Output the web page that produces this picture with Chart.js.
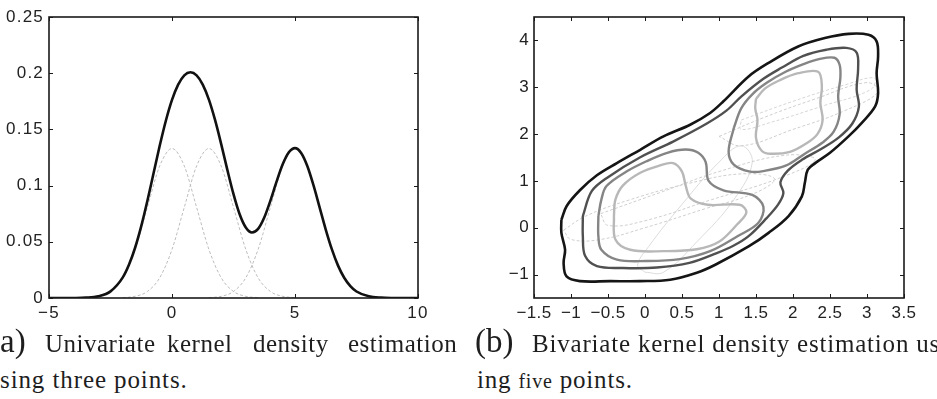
<!DOCTYPE html>
<html lang="en">
<head>
<meta charset="UTF-8">
<title>Kernel density estimation</title>
<script src="https://cdn.jsdelivr.net/npm/chart.js@4.4.1/dist/chart.umd.min.js"></script>
<style>
  body { margin: 0; background: #fff; width: 937px; height: 399px; overflow: hidden; position: relative; }
  .panel { position: absolute; top: 0; }
  .cap { position: absolute; font-family: "Liberation Serif", "Times New Roman", serif; color: #1e1e1e;
         white-space: nowrap; line-height: 1; font-size: 25px; letter-spacing: 0.5px; }
  .big { font-size: 33px; letter-spacing: 0; }
  .small { font-size: 20px; }
</style>
</head>
<body>
<div class="panel" style="left:0"><canvas id="uni" width="468" height="330"></canvas></div>
<div class="panel" style="left:468px"><canvas id="bi" width="469" height="330"></canvas></div>

<div class="cap big" style="left:0; top:325px">a)</div>
<div class="cap" style="left:45px; top:331px">Univariate</div>
<div class="cap" style="left:167px; top:331px">kernel</div>
<div class="cap" style="left:253px; top:331px">density</div>
<div class="cap" style="left:348px; top:331px">estimation</div>
<div class="cap" style="left:0; top:367px; letter-spacing:0.9px">sing three points.</div>

<div class="cap big" style="left:475px; top:325px">(b)</div>
<div class="cap" style="left:532px; top:331px; letter-spacing:0.8px">Bivariate kernel density estimation us</div>
<div class="cap" style="left:477px; top:367px; letter-spacing:0.8px">ing <span class="small">five</span> points.</div>

<script>
// ---- panel (a): univariate KDE, three points ----
const densityX = [-5, -4.5, -4, -3.5, -3, -2.5, -2, -1.75, -1.5, -1.25, -1, -0.75, -0.5, -0.25, 0,
  0.25, 0.5, 0.75, 1, 1.25, 1.5, 1.75, 2, 2.25, 2.5, 2.75, 3, 3.25, 3.5, 3.75, 4,
  4.25, 4.5, 4.75, 5, 5.25, 5.5, 5.75, 6, 6.25, 6.5, 6.75, 7, 7.25, 7.5, 8, 8.5, 9, 9.5, 10];
const densityY = [0, 0, 0.00004, 0.0003, 0.0015, 0.0059, 0.0183, 0.0295, 0.0447, 0.0639, 0.0865, 0.1110, 0.1354, 0.1577, 0.1762,
  0.1898, 0.1981, 0.2008, 0.1981, 0.1899, 0.1765, 0.1584, 0.1369, 0.1140, 0.0924, 0.0745, 0.0627, 0.0583, 0.0615, 0.0716, 0.0866,
  0.1035, 0.1189, 0.1296, 0.1333, 0.1290, 0.1174, 0.1004, 0.0807, 0.0609, 0.0432, 0.0288, 0.0180, 0.0106, 0.0058, 0.0015, 0.0003, 0.00004, 0, 0];

// the three dashed kernels
const kernelY = [0.0003, 0.0015, 0.0058, 0.0180, 0.0432, 0.0807, 0.1174, 0.1330, 0.1174, 0.0807, 0.0432, 0.0180, 0.0058, 0.0015, 0.0003];
const kernelAX = [-3.5, -3, -2.5, -2, -1.5, -1, -0.5, 0, 0.5, 1, 1.5, 2, 2.5, 3, 3.5];
const kernelBX = [-2, -1.5, -1, -0.5, 0, 0.5, 1, 1.5, 2, 2.5, 3, 3.5, 4, 4.5, 5];
const kernelCX = [1.5, 2, 2.5, 3, 3.5, 4, 4.5, 5, 5.5, 6, 6.5, 7, 7.5, 8, 8.5];

const uniXTicks = [-5, 0, 5, 10];
const uniYTicks = [0, 0.05, 0.1, 0.15, 0.2, 0.25];
const uniYLabels = ['0', '0.05', '0.1', '0.15', '0.2', '0.25'];

// ---- panel (b): bivariate KDE, contour lines ----
const contourOuter = [[-1.13, 0.17], [-1.06, 0.46], [-0.88, 0.8], [-0.65, 1.12], [-0.38, 1.38], [-0.07, 1.66],
  [0.25, 1.95], [0.61, 2.2], [0.88, 2.45], [1.06, 2.7], [1.4, 3.23], [1.67, 3.52], [2.07, 3.87], [2.43, 4.05],
  [2.75, 4.14], [3.02, 4.12], [3.13, 3.98], [3.15, 3.66], [3.13, 3.3], [3.15, 2.88], [3.11, 2.59], [2.93, 2.24],
  [2.75, 1.95], [2.5, 1.6], [2.3, 1.38], [2.2, 1.24], [2.16, 0.96], [2.12, 0.67], [1.94, 0.25], [1.67, -0.11],
  [1.4, -0.4], [0.95, -0.79], [0.7, -0.96], [0.34, -1.11], [-0.07, -1.14], [-0.47, -1.14], [-0.88, -1.14],
  [-1.06, -1.04], [-1.1, -0.75], [-1.08, -0.47], [-1.13, -0.11], [-1.13, 0.17]];
const contourSecond = [[-0.84, 0.25], [-0.72, 0.78], [-0.5, 1.08], [-0.07, 1.5], [0.38, 1.84], [0.83, 2.22],
  [1.1, 2.5], [1.3, 2.8], [1.6, 3.18], [1.85, 3.42], [2.14, 3.67], [2.45, 3.8], [2.72, 3.84], [2.86, 3.74],
  [2.88, 3.4], [2.86, 2.95], [2.89, 2.58], [2.8, 2.22], [2.62, 1.93], [2.38, 1.68], [2.12, 1.45], [1.93, 1.22],
  [1.83, 0.97], [1.87, 0.74], [1.8, 0.5], [1.64, 0.2], [1.4, -0.18], [1.2, -0.38], [0.97, -0.54], [0.6, -0.75],
  [0.16, -0.85], [-0.3, -0.86], [-0.65, -0.82], [-0.81, -0.6], [-0.84, -0.18], [-0.84, 0.25]];
const contourThirdLow = [[-0.63, 0.25], [-0.59, 0.6], [-0.52, 0.89], [-0.25, 1.2], [0.02, 1.42], [0.3, 1.6],
  [0.55, 1.67], [0.72, 1.6], [0.82, 1.4], [0.86, 1.0], [1.06, 0.8], [1.45, 0.7], [1.6, 0.45], [1.53, 0.1],
  [1.25, -0.18], [0.88, -0.5], [0.47, -0.67], [0.02, -0.71], [-0.38, -0.68], [-0.59, -0.47], [-0.63, -0.18],
  [-0.63, 0.25]];
const contourThirdHigh = [[1.2, 2.13], [1.3, 2.55], [1.45, 2.85], [1.65, 3.1], [1.9, 3.33], [2.15, 3.5],
  [2.35, 3.6], [2.56, 3.63], [2.63, 3.48], [2.64, 3.2], [2.61, 2.81], [2.63, 2.42], [2.55, 2.05], [2.4, 1.82],
  [2.15, 1.57], [1.91, 1.33], [1.6, 1.21], [1.42, 1.2], [1.2, 1.35], [1.13, 1.63], [1.2, 2.13]];
const contourInnerLow = [[-0.42, 0.25], [-0.4, 0.6], [-0.3, 0.9], [-0.07, 1.17], [0.2, 1.33], [0.38, 1.38],
  [0.5, 1.2], [0.55, 0.9], [0.62, 0.62], [0.85, 0.49], [1.28, 0.49], [1.37, 0.33], [1.25, 0.08], [1.0, -0.3],
  [0.7, -0.46], [0.25, -0.5], [-0.2, -0.47], [-0.4, -0.25], [-0.42, 0.25]];
const contourInnerHigh = [[1.5, 2.75], [1.62, 2.97], [1.82, 3.15], [2.07, 3.3], [2.34, 3.33], [2.39, 3.02],
  [2.37, 2.66], [2.4, 2.3], [2.33, 2.0], [2.18, 1.8], [1.96, 1.62], [1.7, 1.58], [1.58, 1.64], [1.5, 1.92],
  [1.52, 2.3], [1.49, 2.55], [1.5, 2.75]];
// faint outlines of the single kernels
const kernelLow = [[-1.1, -0.05], [-0.8, 0.25], [-0.2, 0.6], [0.6, 0.95], [1.3, 1.15], [1.75, 1.05], [1.5, 0.75],
  [0.8, 0.4], [0.0, 0.0], [-0.6, -0.25], [-1.0, -0.25], [-1.1, -0.05]];
const kernelMid = [[-0.6, 0.3], [0.2, 0.75], [1.0, 1.2], [1.9, 1.55], [2.3, 1.45], [1.8, 1.05], [0.9, 0.6],
  [0.0, 0.15], [-0.5, 0.05], [-0.6, 0.3]];
const kernelHigh = [[1.0, 1.95], [1.6, 2.35], [2.3, 2.75], [3.0, 3.1], [3.15, 2.9], [2.7, 2.5], [2.0, 2.1],
  [1.3, 1.75], [1.0, 1.95]];
const kernelHigh2 = [[1.3, 2.3], [2.0, 2.7], [2.7, 3.05], [3.1, 3.2], [3.05, 2.95], [2.4, 2.6], [1.7, 2.25],
  [1.3, 2.1], [1.3, 2.3]];
const kernelSteep = [[0.0, -0.95], [0.25, -0.95], [0.7, -0.3], [1.2, 0.6], [1.45, 1.4], [1.3, 1.75], [1.0, 1.4],
  [0.5, 0.5], [0.05, -0.4], [-0.1, -0.8], [0.0, -0.95]];

const biXTicks = [-1.5, -1, -0.5, 0, 0.5, 1, 1.5, 2, 2.5, 3, 3.5];
const biYTicks = [-1, 0, 1, 2, 3, 4];

const minus = v => String(v).replace('-', '\u2212');
const pts = (xs, ys) => xs.map((x, i) => ({ x, y: ys[i] }));
const pairs = arr => arr.map(([x, y]) => ({ x, y }));

// box round the plot area with inner ticks on all four sides
const frame = {
  id: 'frame',
  beforeDraw(chart, args, opts) {
    chart.ctx.letterSpacing = opts.spacing || '0px';
  },
  afterDatasetsDraw(chart) {
    const { ctx, chartArea: a, scales: { x, y } } = chart;
    ctx.save();
    ctx.strokeStyle = '#1a1a1a';
    ctx.lineWidth = 1;
    ctx.beginPath();
    x.ticks.forEach(t => {
      const px = Math.round(x.getPixelForValue(t.value)) + 0.5;
      ctx.moveTo(px, a.bottom); ctx.lineTo(px, a.bottom - 4);
      ctx.moveTo(px, a.top); ctx.lineTo(px, a.top + 4);
    });
    y.ticks.forEach(t => {
      const py = Math.round(y.getPixelForValue(t.value)) + 0.5;
      ctx.moveTo(a.left, py); ctx.lineTo(a.left + 4, py);
      ctx.moveTo(a.right, py); ctx.lineTo(a.right - 4, py);
    });
    ctx.stroke();
    ctx.lineWidth = 1.6;
    ctx.strokeRect(a.left, a.top, a.width, a.height);
    ctx.restore();
  }
};

Chart.defaults.font.family = '"Liberation Sans", Arial, sans-serif';
Chart.defaults.font.size = 17;
Chart.defaults.color = '#222';

function axes(xMin, xMax, xTicks, yMin, yMax, yTicks, yLabels, yWidth) {
  return {
    x: {
      type: 'linear', min: xMin, max: xMax,
      afterBuildTicks: s => { s.ticks = xTicks.map(v => ({ value: v })); },
      afterFit: s => { s.height = 32; },
      grid: { display: false, drawTicks: false },
      border: { display: false },
      ticks: { padding: 5, maxRotation: 0, autoSkip: false, callback: v => minus(v) }
    },
    y: {
      type: 'linear', min: yMin, max: yMax,
      afterBuildTicks: s => { s.ticks = yTicks.map(v => ({ value: v })); },
      afterFit: s => { s.width = yWidth; },
      grid: { display: false, drawTicks: false },
      border: { display: false },
      ticks: { padding: 5, autoSkip: false, callback: (v, i) => yLabels ? yLabels[i] : minus(v) }
    }
  };
}

const common = {
  responsive: false,
  animation: false,
  devicePixelRatio: 1,
  elements: { point: { radius: 0 } }
};

const line = (data, color, width, extra) => Object.assign({
  data, showLine: true, borderColor: color, borderWidth: width, pointRadius: 0, fill: false
}, extra || {});

new Chart(document.getElementById('uni'), {
  type: 'scatter',
  data: {
    datasets: [
      line(pts(densityX, densityY), '#111', 2.6, { cubicInterpolationMode: 'monotone' }),
      line(pts(kernelAX, kernelY), '#bdbdbd', 1, { cubicInterpolationMode: 'monotone', borderDash: [3, 2] }),
      line(pts(kernelBX, kernelY), '#bdbdbd', 1, { cubicInterpolationMode: 'monotone', borderDash: [3, 2] }),
      line(pts(kernelCX, kernelY), '#bdbdbd', 1, { cubicInterpolationMode: 'monotone', borderDash: [3, 2] })
    ]
  },
  options: Object.assign({}, common, {
    layout: { padding: { top: 17, right: 50, left: 0, bottom: 0 } },
    plugins: { legend: { display: false }, tooltip: { enabled: false }, frame: { spacing: '1.2px' } },
    scales: axes(-5, 10, uniXTicks, 0, 0.25, uniYTicks, uniYLabels, 49)
  }),
  plugins: [frame]
});

new Chart(document.getElementById('bi'), {
  type: 'scatter',
  data: {
    datasets: [
      line(pairs(contourOuter), '#151515', 2.6, { tension: 0.35 }),
      line(pairs(contourSecond), '#505050', 2.4, { tension: 0.35 }),
      line(pairs(contourThirdLow), '#858585', 2.4, { tension: 0.35 }),
      line(pairs(contourThirdHigh), '#858585', 2.4, { tension: 0.35 }),
      line(pairs(contourInnerLow), '#b8b8b8', 2.4, { tension: 0.35 }),
      line(pairs(contourInnerHigh), '#b8b8b8', 2.4, { tension: 0.35 }),
      line(pairs(kernelLow), '#cfcfcf', 1, { tension: 0.4, borderDash: [3, 2] }),
      line(pairs(kernelMid), '#cfcfcf', 1, { tension: 0.4, borderDash: [3, 2] }),
      line(pairs(kernelHigh), '#cfcfcf', 1, { tension: 0.4, borderDash: [3, 2] }),
      line(pairs(kernelHigh2), '#d6d6d6', 1, { tension: 0.4, borderDash: [3, 2] }),
      line(pairs(kernelSteep), '#dcdcdc', 1, { tension: 0.4 })
    ]
  },
  options: Object.assign({}, common, {
    layout: { padding: { top: 17, right: 33, left: 0, bottom: 0 } },
    plugins: { legend: { display: false }, tooltip: { enabled: false }, frame: { spacing: '0.4px' } },
    scales: axes(-1.5, 3.5, biXTicks, -1.5, 4.5, biYTicks, null, 66)
  }),
  plugins: [frame]
});
</script>
</body>
</html>
